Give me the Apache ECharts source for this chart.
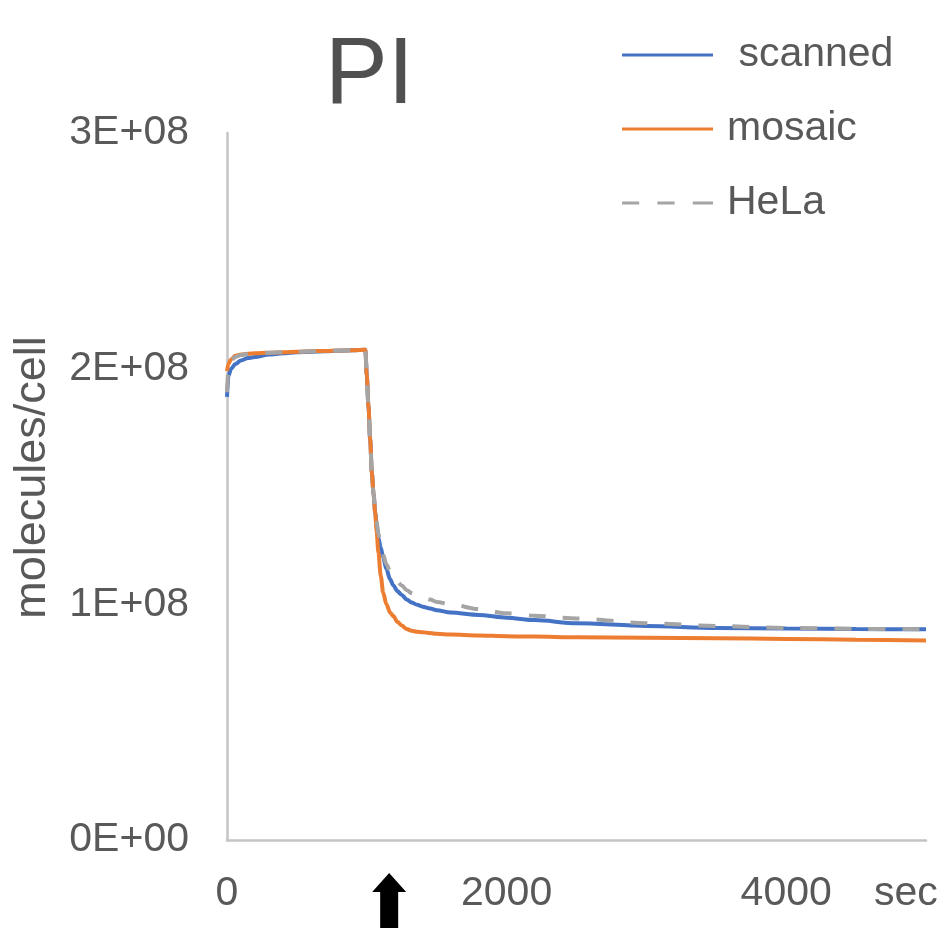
<!DOCTYPE html>
<html>
<head>
<meta charset="utf-8">
<script src="https://cdn.jsdelivr.net/npm/echarts@6/dist/echarts.min.js"></script>
<style>
html,body{margin:0;padding:0;background:#fff;}
#chart{width:945px;height:932px;}
</style>
</head>
<body>
<div id="chart"></div>
<script>
// ---- data ----
const chartTitle = 'PI';
const seriesNames = [' scanned', 'mosaic', 'HeLa'];
const yAxisName = 'molecules/cell';
const xAxisName = 'sec';
const xTickLabels = ['0', '2000', '4000'];
const yTickLabels = ['0E+00', '1E+08', '2E+08', '3E+08'];
const arrowTime = 1160;

const times = [0, 10, 30, 60, 100, 150, 200, 300, 400, 500, 600, 700, 800, 900, 990,
  1000, 1012, 1024, 1036, 1048, 1060, 1070, 1083, 1100, 1117, 1140, 1167, 1190, 1220, 1250,
  1286, 1320, 1360, 1400, 1453, 1500, 1600, 1800, 2000, 2200, 2500, 3000, 3500, 4000, 4500, 5000];

const scanned = [1.88e8, 1.97e8, 2.00e8, 2.02e8, 2.035e8, 2.045e8, 2.05e8, 2.06e8, 2.065e8, 2.07e8, 2.072e8, 2.074e8, 2.076e8, 2.078e8, 2.08e8,
  1.97e8, 1.84e8, 1.70e8, 1.56e8, 1.47e8, 1.39e8, 1.34e8, 1.28e8, 1.24e8, 1.20e8, 1.15e8, 1.106e8, 1.08e8, 1.055e8, 1.04e8,
  1.02e8, 1.008e8, 0.998e8, 0.99e8, 0.982e8, 0.975e8, 0.965e8, 0.955e8, 0.943e8, 0.933e8, 0.92e8, 0.908e8, 0.90e8, 0.897e8, 0.895e8, 0.894e8];

const mosaic = [1.99e8, 2.02e8, 2.04e8, 2.055e8, 2.06e8, 2.063e8, 2.065e8, 2.068e8, 2.07e8, 2.072e8, 2.074e8, 2.075e8, 2.077e8, 2.078e8, 2.08e8,
  1.97e8, 1.84e8, 1.70e8, 1.56e8, 1.47e8, 1.39e8, 1.31e8, 1.22e8, 1.12e8, 1.05e8, 1.00e8, 0.965e8, 0.95e8, 0.925e8, 0.91e8,
  0.895e8, 0.888e8, 0.884e8, 0.882e8, 0.878e8, 0.875e8, 0.872e8, 0.868e8, 0.865e8, 0.863e8, 0.86e8, 0.858e8, 0.856e8, 0.853e8, 0.85e8, 0.847e8];

const hela = [1.90e8, 2.00e8, 2.035e8, 2.05e8, 2.058e8, 2.062e8, 2.065e8, 2.068e8, 2.07e8, 2.072e8, 2.074e8, 2.075e8, 2.077e8, 2.078e8, 2.08e8,
  1.97e8, 1.84e8, 1.70e8, 1.56e8, 1.47e8, 1.39e8, 1.35e8, 1.30e8, 1.25e8, 1.21e8, 1.17e8, 1.14e8, 1.115e8, 1.095e8, 1.08e8,
  1.06e8, 1.048e8, 1.04e8, 1.03e8, 1.02e8, 1.01e8, 1.00e8, 0.98e8, 0.962e8, 0.952e8, 0.94e8, 0.92e8, 0.908e8, 0.90e8, 0.896e8, 0.894e8];

const colors = ['#4472C4', '#ED7D31', '#A5A5A5'];
const FONT = "'Liberation Sans', Arial, sans-serif";
const TXT = '#595959';
const SOLID_ICON = 'path://M0,0H90V3H0Z';
const DASH_ICON = 'path://M0,0H17V3H0Z M35,0H52V3H35Z M70,0H90V3H70Z';

const chart = echarts.init(document.getElementById('chart'), null, {renderer: 'canvas'});

function pairs(vals) { return times.map((t, i) => [t, vals[i]]); }

const option = {
  animation: false,
  backgroundColor: '#ffffff',
  title: {
    text: chartTitle,
    left: 320, top: 25,
    textStyle: {fontFamily: FONT, fontSize: 94, fontWeight: 'normal', color: '#505050'}
  },
  legend: {
    orient: 'vertical',
    left: 617, top: 28,
    itemWidth: 91, itemHeight: 3.5, itemGap: 30,
    textStyle: {fontFamily: FONT, fontSize: 41, color: TXT, lineHeight: 44, padding: [0, 0, 0, 9]},
    data: [
      {name: seriesNames[0], icon: SOLID_ICON, itemStyle: {color: colors[0]}},
      {name: seriesNames[1], icon: SOLID_ICON, itemStyle: {color: colors[1]}},
      {name: seriesNames[2], icon: DASH_ICON, itemStyle: {color: colors[2]}}
    ]
  },
  grid: {left: 227, right: 19, top: 133, bottom: 92, containLabel: false, outerBoundsMode: 'none'},
  xAxis: {
    type: 'value', min: 0, max: 5000, interval: 2000,
    name: xAxisName, nameLocation: 'end', nameGap: -52,
    nameTextStyle: {fontFamily: FONT, fontSize: 41, color: TXT, verticalAlign: 'top', padding: [33, 0, 0, 0], align: 'left'},
    axisLine: {show: true, lineStyle: {color: '#C4C4C4', width: 2.5}},
    axisTick: {show: false},
    splitLine: {show: false},
    axisLabel: {
      showMaxLabel: false, margin: 33,
      fontFamily: FONT, fontSize: 41, color: TXT,
      formatter: function (v) { const i = Math.round(v / 2000); return xTickLabels[i] !== undefined ? xTickLabels[i] : ''; }
    }
  },
  yAxis: {
    type: 'value', min: 0, max: 3e8, interval: 1e8,
    name: yAxisName, nameLocation: 'middle', nameGap: 172, nameRotate: 90,
    nameTextStyle: {fontFamily: FONT, fontSize: 45, color: TXT, padding: [0, 0, 0, 18]},
    axisLine: {show: true, lineStyle: {color: '#C4C4C4', width: 2.5}},
    axisTick: {show: false},
    splitLine: {show: false},
    axisLabel: {
      margin: 38, fontFamily: FONT, fontSize: 41, color: TXT,
      formatter: function (v) { return yTickLabels[Math.round(v / 1e8)]; }
    }
  },
  series: [
    {name: seriesNames[0], type: 'line', data: pairs(scanned), symbol: 'none', smooth: 0.3, smoothMonotone: 'x',
     lineStyle: {color: colors[0], width: 4}, itemStyle: {color: colors[0]}, z: 2},
    {name: seriesNames[1], type: 'line', data: pairs(mosaic), symbol: 'none', smooth: 0.3, smoothMonotone: 'x',
     lineStyle: {color: colors[1], width: 4}, itemStyle: {color: colors[1]}, z: 3},
    {name: seriesNames[2], type: 'line', data: pairs(hela), symbol: 'none', smooth: 0.3, smoothMonotone: 'x',
     lineStyle: {color: colors[2], width: 4, type: [17, 17]}, itemStyle: {color: colors[2]}, z: 4}
  ]
};
chart.setOption(option);

// arrow annotation under the x axis at arrowTime
const ax = chart.convertToPixel({xAxisIndex: 0}, arrowTime);
const base = chart.convertToPixel({yAxisIndex: 0}, 0);
chart.setOption({
  graphic: [{
    type: 'polygon',
    x: ax, y: base + 33,
    shape: {points: [[0, 0], [17, 19], [9, 19], [9, 55], [-9, 55], [-9, 19], [-17, 19]]},
    style: {fill: '#000000'}
  }]
});
</script>
</body>
</html>
